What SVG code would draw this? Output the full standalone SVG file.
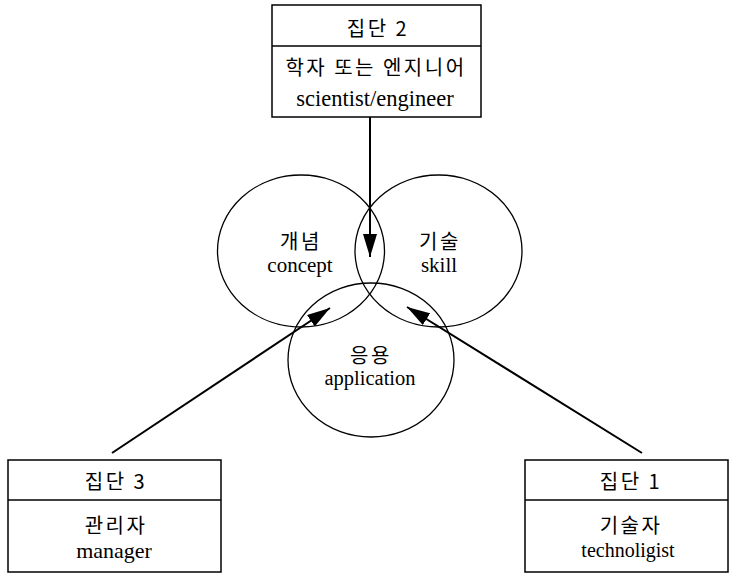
<svg xmlns="http://www.w3.org/2000/svg" width="731" height="574" viewBox="0 0 731 574">
<style>
text { font-family: 'Liberation Serif', 'DejaVu Serif', 'Noto Sans CJK KR', serif; font-size: 21px; fill: #000; text-anchor: middle; dominant-baseline: central; }
text.ko { font-family: 'Noto Sans CJK KR', 'Liberation Serif', sans-serif; font-size: 20px; letter-spacing: 2.5px; }
.box { fill: #fff; stroke: #000; stroke-width: 1.5; }
.div { stroke: #000; stroke-width: 1.3; }
.set { fill: none; stroke: #000; stroke-width: 1.3; }
.conn { stroke: #000; stroke-width: 2; fill: none; }
</style>
<defs>
<marker id="arr" markerUnits="userSpaceOnUse" markerWidth="24" markerHeight="14" refX="23" refY="7" orient="auto">
<path d="M0,0 L23,7 L0,14 z" fill="#000"/>
</marker>
</defs>
<g id="sets">
<ellipse id="concept" class="set" cx="301" cy="251" rx="83.5" ry="76"/>
<ellipse id="skill" class="set" cx="438.5" cy="251" rx="83.5" ry="76"/>
<ellipse id="application" class="set" cx="371" cy="360" rx="83" ry="77"/>
</g>
<g id="set-labels">
<text class="ko" x="301" y="240">개념</text>
<text x="300" y="265">concept</text>
<text class="ko" x="440" y="240">기술</text>
<text x="439" y="265">skill</text>
<text class="ko" x="371" y="354">응용</text>
<text x="370" y="378" style="font-size:20.5px">application</text>
</g>
<g id="connectors">
<line class="conn" x1="370" y1="117" x2="370" y2="257" marker-end="url(#arr)"/>
<line class="conn" x1="112" y1="453" x2="330" y2="308" marker-end="url(#arr)"/>
<line class="conn" x1="642" y1="453" x2="407" y2="307" marker-end="url(#arr)"/>
</g>
<g id="group2">
<rect class="box" x="272" y="5" width="209" height="112"/>
<line class="div" x1="272" y1="46" x2="481" y2="46"/>
<text class="ko" x="378" y="27">집단 2</text>
<text class="ko" x="376" y="66">학자 또는 엔지니어</text>
<text x="375" y="98" style="font-size:22.5px">scientist/engineer</text>
</g>
<g id="group3">
<rect class="box" x="8" y="460" width="213" height="112"/>
<line class="div" x1="8" y1="500" x2="221" y2="500"/>
<text class="ko" x="116" y="480">집단 3</text>
<text class="ko" x="116" y="524">관리자</text>
<text x="114" y="550" style="font-size:22px">manager</text>
</g>
<g id="group1">
<rect class="box" x="525" y="460" width="203" height="112"/>
<line class="div" x1="525" y1="500" x2="728" y2="500"/>
<text class="ko" x="631" y="480">집단 1</text>
<text class="ko" x="631" y="524">기술자</text>
<text x="628" y="550" style="font-size:20px">technoligist</text>
</g>
</svg>
